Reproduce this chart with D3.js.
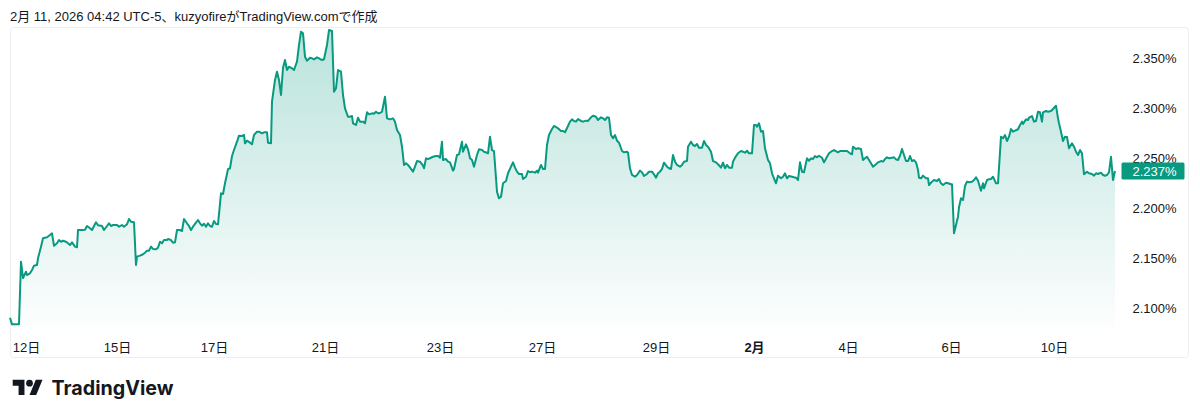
<!DOCTYPE html>
<html><head><meta charset="utf-8">
<script src="https://cdn.jsdelivr.net/npm/d3@7"></script>
<style>
html,body{margin:0;padding:0;background:#fff;}
svg{display:block;}
</style></head><body>
<svg id="chart" width="1200" height="420"></svg>
<script>
// 30-minute bar index (trading time, weekends collapsed)
const barIndex = [
0,2,9,11,13,16,17,20,22,24,27,28,31,33,37,40,42,44,47,49,51,53,56,58,60,62,65,67,68,72,
75,77,80,82,84,86,88,92,94,97,99,101,103,107,109,112,114,117,119,121,124,126,127,130,133,135,137,139,141,143,
146,148,150,152,154,157,158,161,163,165,167,170,172,174,177,179,181,183,186,188,190,192,194,196,198,200,202,204,206,208,
211,213,215,218,220,222,224,227,229,232,234,235,237,240,242,244,247,249,252,254,257,258,261,262,265,267,269,271,273,275,
277,279,282,284,287,289,291,293,295,297,300,302,304,307,309,312,314,317,319,322,324,326,328,331,333,335,338,340,342,343,
346,348,350,353,355,357,359,362,364,366,368,370,372,375,377,380,383,385,387,390,392,394,396,398,401,403,405,407,410,413,
414,416,418,421,423,426,428,430,432,433,436,438,440,443,444,447,449,452,453,456,458,460,462,464,467,469,472,474,477,478,
480,482,484,487,489,491,493,496,498,501,503,505,507,509,512,513,516,518,520,522,525,527,528,531,533,535,537,539,542,544,
547,548,551,553,555,558,560,562,564,566,568,571,573,576,578,581,583,586,588,591,593,595,597,599,601,603,605,607,609,612,
614,617,618,620,622,625,627,630,632,634,637,639,642,644,646,648,650,652,654,657,659,661,663,665,667,670,672,674,677,678,
681,683,685,687,689,692,694,696,698,701,703,706,708,711,713,715,717,719,722,723,726,728,731,733,735,737,739,742,744,746,
747,749,751,753,755,758,760,762,764,766,768,771,773,775,777,779,782,784,786,788,790,792,794,797,799,801,803,805,807,809,
812,814,817,819,822,824,828,830,833,837,840,842,843,846,848,851,853,855,857,859,861,863,866,868,871,873,875,877,879,882,
884,886,888,890,892,894,896,898,900,902,904,906,908,909,911,913,916,918,919,922,924,927,929,931,933,936,938,941,942,944,
946,948,949,951,953,955,957,959,962,964,966,968,971,973,974,977,979,981,983,986,988,991,993,995,997,999,1001,1003,1005,1008,
1010,1012,1013,1016,1018,1019,1022,1024,1026,1028,1030,1032,1033,1036,1038,1041,1043,1046,1048,1049,1051,1053,1055,1057,1059,1062,1064,1066,1068,1070,
1072,1074,1077,1079,1082,1084,1086,1088,1091,1093,1095,1097,1099,1101,1103,1105
];
const yieldPct = [
2.0906,2.0840,2.0840,2.1465,2.1302,2.1365,2.1332,2.1349,2.1382,2.1425,2.1432,2.1499,2.1615,2.1698,2.1708,2.1731,2.1748,2.1624,2.1648,2.1681,2.1664,2.1674,2.1664,2.1648,2.1631,2.1658,2.1615,2.1609,2.1781,2.1781,
2.1784,2.1821,2.1798,2.1781,2.1821,2.1858,2.1828,2.1821,2.1781,2.1821,2.1848,2.1821,2.1831,2.1831,2.1814,2.1831,2.1814,2.1838,2.1891,2.1864,2.1858,2.1432,2.1515,2.1525,2.1539,2.1555,2.1575,2.1575,2.1615,2.1592,
2.1588,2.1605,2.1664,2.1648,2.1681,2.1681,2.1691,2.1681,2.1654,2.1658,2.1781,2.1781,2.1771,2.1891,2.1848,2.1821,2.1781,2.1814,2.1854,2.1881,2.1848,2.1824,2.1844,2.1814,2.1848,2.1821,2.1814,2.1871,2.1841,2.1838,
2.2147,2.2140,2.2247,2.2387,2.2397,2.2519,2.2579,2.2662,2.2722,2.2719,2.2729,2.2646,2.2672,2.2652,2.2636,2.2729,2.2762,2.2762,2.2746,2.2756,2.2756,2.2652,2.2646,2.3061,2.3278,2.3360,2.3278,2.3128,2.3397,2.3477,
2.3377,2.3410,2.3394,2.3377,2.3460,2.3627,2.3759,2.3743,2.3510,2.3470,2.3500,2.3494,2.3484,2.3504,2.3494,2.3477,2.3484,2.3627,2.3776,2.3766,2.3161,2.3195,2.3377,2.3360,2.3128,2.2995,2.2911,2.2911,2.2918,2.2846,
2.2829,2.2901,2.2862,2.2862,2.2846,2.2955,2.2935,2.2945,2.2941,2.2961,2.2945,2.2948,2.2961,2.3111,2.2895,2.2885,2.2895,2.2862,2.2779,2.2729,2.2612,2.2430,2.2447,2.2430,2.2390,2.2363,2.2413,2.2469,2.2463,2.2423,
2.2397,2.2496,2.2489,2.2502,2.2512,2.2519,2.2519,2.2502,2.2662,2.2479,2.2489,2.2463,2.2456,2.2373,2.2390,2.2529,2.2536,2.2662,2.2562,2.2636,2.2586,2.2496,2.2479,2.2413,2.2529,2.2586,2.2579,2.2562,2.2552,2.2546,
2.2712,2.2579,2.2569,2.2163,2.2097,2.2113,2.2247,2.2270,2.2347,2.2413,2.2456,2.2403,2.2363,2.2340,2.2340,2.2290,2.2313,2.2370,2.2357,2.2363,2.2353,2.2373,2.2353,2.2430,2.2390,2.2390,2.2629,2.2729,2.2789,2.2819,
2.2802,2.2796,2.2769,2.2769,2.2756,2.2819,2.2862,2.2885,2.2869,2.2862,2.2888,2.2869,2.2862,2.2872,2.2869,2.2905,2.2921,2.2911,2.2878,2.2905,2.2895,2.2878,2.2905,2.2901,2.2729,2.2696,2.2729,2.2672,2.2652,2.2569,
2.2556,2.2562,2.2552,2.2397,2.2330,2.2313,2.2330,2.2373,2.2357,2.2320,2.2340,2.2363,2.2363,2.2337,2.2303,2.2347,2.2363,2.2390,2.2453,2.2413,2.2397,2.2390,2.2529,2.2463,2.2430,2.2413,2.2430,2.2463,2.2469,2.2612,
2.2662,2.2629,2.2619,2.2639,2.2602,2.2602,2.2669,2.2629,2.2612,2.2562,2.2469,2.2456,2.2437,2.2403,2.2453,2.2397,2.2430,2.2403,2.2403,2.2463,2.2519,2.2546,2.2569,2.2562,2.2552,2.2572,2.2546,2.2546,2.2829,2.2829,
2.2812,2.2846,2.2762,2.2769,2.2596,2.2479,2.2447,2.2347,2.2297,2.2247,2.2323,2.2297,2.2313,2.2347,2.2297,2.2320,2.2313,2.2307,2.2303,2.2280,2.2456,2.2363,2.2357,2.2496,2.2472,2.2496,2.2489,2.2519,2.2506,2.2522,
2.2502,2.2456,2.2512,2.2546,2.2569,2.2579,2.2556,2.2569,2.2569,2.2569,2.2546,2.2536,2.2612,2.2589,2.2596,2.2589,2.2479,2.2496,2.2512,2.2479,2.2447,2.2413,2.2437,2.2456,2.2469,2.2463,2.2489,2.2506,2.2496,2.2502,
2.2506,2.2486,2.2479,2.2522,2.2589,2.2529,2.2469,2.2469,2.2519,2.2469,2.2479,2.2456,2.2380,2.2303,2.2297,2.2323,2.2297,2.2297,2.2230,2.2263,2.2280,2.2270,2.2290,2.2247,2.2230,2.2253,2.2247,2.2237,2.2237,2.1748,
2.1831,2.1914,2.2008,2.2097,2.2080,2.2220,2.2263,2.2257,2.2263,2.2280,2.2307,2.2273,2.2173,2.2247,2.2197,2.2280,2.2287,2.2290,2.2313,2.2247,2.2247,2.2712,2.2696,2.2729,2.2669,2.2712,2.2789,2.2762,2.2772,2.2786,
2.2829,2.2862,2.2839,2.2885,2.2878,2.2901,2.2918,2.2862,2.2869,2.2961,2.2955,2.2862,2.2955,2.2968,2.2961,2.2968,2.2988,2.3021,2.2895,2.2846,2.2762,2.2669,2.2712,2.2709,2.2596,2.2646,2.2612,2.2562,2.2529,2.2579,
2.2546,2.2337,2.2363,2.2347,2.2340,2.2323,2.2347,2.2340,2.2353,2.2330,2.2323,2.2330,2.2357,2.2512,2.2280,2.2370
];
const yTickValues = [2.10, 2.15, 2.20, 2.25, 2.30, 2.35];
const xTickBars = [16, 107, 204, 315, 430, 532, 646, 744, 838, 941, 1044];
const xTickLabels = ["12日","15日","17日","21日","23日","27日","29日","2月","4日","6日","10日"];
const lastValue = 2.237;
const headerText = "2月 11, 2026 04:42 UTC-5、kuzyofireがTradingView.comで作成";

const GREEN = "#089981";
const TEXT = "#131722";
const FONT = "'Liberation Sans', Arial, 'Noto Sans CJK JP', sans-serif";

const data = barIndex.map((b, i) => ({b, v: yieldPct[i]}));
const svg = d3.select("#chart");

const plotTop = 27, plotBottom = 327;
const x = d3.scaleLinear().domain([0, 1105]).range([10, 1115]);
const y = d3.scaleLinear().domain([2.10, 2.35]).range([308.3, 57.7]);

// header
svg.append("text").attr("x", 10).attr("y", 20.5)
  .attr("font-family", FONT).attr("font-size", 13).attr("fill", TEXT)
  .text(headerText);

// frame
svg.append("rect").attr("x", 10.5).attr("y", plotTop + 0.5).attr("width", 1178).attr("height", 330)
  .attr("rx", 3).attr("fill", "none").attr("stroke", "#eceef2");

// gradient
const defs = svg.append("defs");
const grad = defs.append("linearGradient").attr("id", "areaGrad")
  .attr("gradientUnits", "userSpaceOnUse").attr("x1", 0).attr("x2", 0)
  .attr("y1", y(2.375)).attr("y2", plotBottom);
grad.append("stop").attr("offset", 0).attr("stop-color", GREEN).attr("stop-opacity", 0.28);
grad.append("stop").attr("offset", 1).attr("stop-color", GREEN).attr("stop-opacity", 0.01);

const area = d3.area().x(d => x(d.b)).y0(plotBottom).y1(d => y(d.v));
svg.append("path").datum(data).attr("d", area).attr("fill", "url(#areaGrad)");

const line = d3.line().x(d => x(d.b)).y(d => y(d.v));
svg.append("path").datum(data).attr("d", line).attr("fill", "none")
  .attr("stroke", GREEN).attr("stroke-width", 2).attr("stroke-linejoin", "round");

// y axis (price scale)
const yAxis = d3.axisRight(y).tickValues(yTickValues).tickSize(0).tickPadding(0)
  .tickFormat(d => d.toFixed(3) + "%");
const gy = svg.append("g").attr("transform", "translate(1132.5,0)").call(yAxis);
gy.select(".domain").remove();
gy.selectAll("text").attr("font-family", FONT).attr("font-size", 13).attr("fill", TEXT)
  .attr("text-anchor", "start").attr("x", 0).attr("dy", "0.35em");

// last value tag (covers the lower part of the 2.250% label, as in the original)
const tag = svg.append("g").attr("transform", `translate(0,${y(lastValue)})`);
tag.append("rect").attr("x", 1121.5).attr("y", -8.5).attr("width", 63).attr("height", 17)
  .attr("rx", 1.5).attr("fill", GREEN);
tag.append("text").attr("x", 1132.5).attr("y", 0).attr("dy", "0.35em")
  .attr("font-family", FONT).attr("font-size", 13).attr("fill", "#ffffff")
  .text(lastValue.toFixed(3) + "%");

// x axis (time scale)
const xAxis = d3.axisBottom(x).tickValues(xTickBars).tickSize(0).tickPadding(0)
  .tickFormat((d, i) => xTickLabels[i]);
const gx = svg.append("g").attr("transform", "translate(0,347)").call(xAxis);
gx.select(".domain").remove();
gx.selectAll("text").attr("font-family", FONT).attr("font-size", 13).attr("fill", TEXT)
  .attr("dy", "0.35em").attr("y", 0)
  .attr("font-weight", (d, i) => xTickLabels[i] === "2月" ? "bold" : "normal");

// TradingView logo
const logo = svg.append("g").attr("transform", "translate(12.7,376.5) scale(0.84)");
logo.append("path").attr("d", "M14 22H7V11H0V4h14v18zM28 22h-8l7.5-18h8L28 22z").attr("fill", TEXT);
logo.append("circle").attr("cx", 20).attr("cy", 8).attr("r", 4).attr("fill", TEXT);
svg.append("text").attr("x", 51.5).attr("y", 394.5)
  .attr("font-family", "Inter, 'Liberation Sans', sans-serif").attr("font-weight", 700)
  .attr("font-size", 19.5).attr("fill", TEXT)
  .attr("textLength", 122).attr("lengthAdjust", "spacingAndGlyphs")
  .text("TradingView");
</script>
</body></html>
